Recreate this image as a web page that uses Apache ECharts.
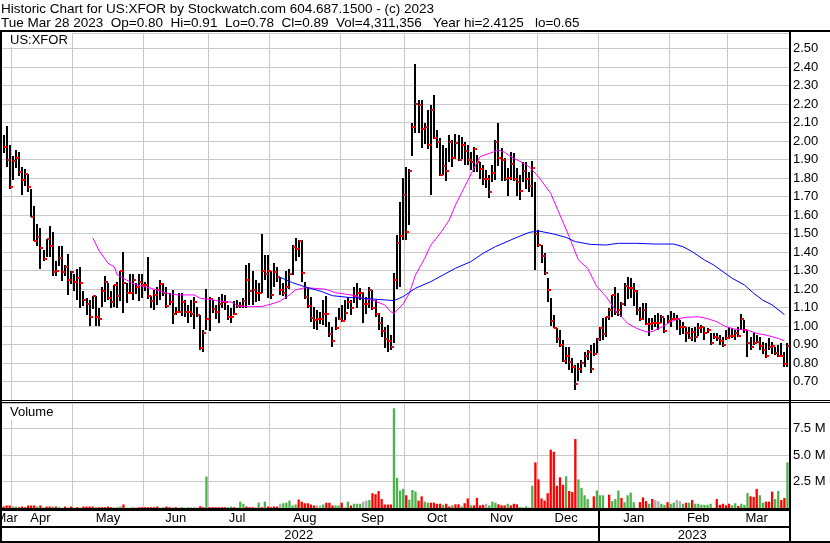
<!DOCTYPE html>
<html><head><meta charset="utf-8">
<script src="https://cdn.jsdelivr.net/npm/echarts@6/dist/echarts.min.js"></script>
<style>html,body{margin:0;padding:0;background:#fff}#c{width:830px;height:543px}</style>
</head><body><div id="c"></div>
<script>
// ---- daily price data (high / low / close), oldest first ----
const hi = [2.03,2.08,1.98,1.92,1.95,1.94,1.86,1.85,1.82,1.74,1.65,1.55,1.53,1.41,1.47,1.54,1.51,1.35,1.43,1.43,
1.33,1.39,1.30,1.28,1.31,1.32,1.19,1.15,1.14,1.16,1.16,1.10,1.21,1.27,1.23,1.19,1.22,1.24,1.30,1.40,
1.23,1.28,1.28,1.23,1.28,1.28,1.24,1.375,1.16,1.195,1.21,1.25,1.23,1.21,1.177,1.195,1.105,1.177,1.177,1.14,
1.114,1.14,1.159,1.105,1.06,0.978,1.20,1.159,1.14,1.114,1.159,1.173,1.168,1.114,1.095,1.137,1.14,1.13,1.15,1.33,
1.342,1.30,1.25,1.23,1.50,1.384,1.384,1.30,1.34,1.32,1.267,1.23,1.30,1.31,1.438,1.474,1.465,1.465,1.24,1.21,
1.159,1.105,1.086,1.077,1.14,1.162,1.023,0.996,1.05,1.095,1.114,1.14,1.159,1.14,1.21,1.23,1.204,1.186,1.159,1.21,
1.195,1.14,1.068,1.05,0.996,1.005,0.951,1.285,1.49,1.67,1.80,1.86,1.85,2.10,2.414,2.22,2.22,2.10,2.17,2.195,
2.25,2.06,2.014,1.978,1.96,2.032,2.005,2.04,2.03,2.023,1.996,1.978,1.942,1.97,1.924,1.888,1.87,1.843,1.816,1.87,
2.005,2.10,1.96,1.906,1.852,1.942,1.933,1.852,1.816,1.888,1.888,1.834,1.892,1.78,1.519,1.438,1.393,1.258,1.15,1.059,
0.987,0.978,0.924,0.888,0.888,0.825,0.789,0.798,0.816,0.861,0.87,0.897,0.906,0.933,0.996,1.041,1.05,1.095,1.168,1.213,
1.177,1.132,1.23,1.267,1.258,1.23,1.195,1.105,1.123,1.123,1.041,1.041,1.059,1.068,1.059,1.041,1.059,1.083,1.068,1.059,
1.032,1.023,0.996,0.996,0.987,0.996,1.014,1.005,0.996,0.987,0.96,0.964,0.96,0.951,0.942,0.978,0.996,0.987,0.978,0.996,
1.063,1.032,0.978,0.942,0.96,0.951,0.942,0.915,0.906,0.933,0.915,0.888,0.897,0.906,0.861,0.91];
const lo = [1.93,1.86,1.74,1.79,1.85,1.81,1.71,1.76,1.72,1.59,1.46,1.43,1.31,1.35,1.37,1.37,1.27,1.27,1.32,1.24,
1.27,1.17,1.23,1.19,1.14,1.10,1.11,1.06,1.00,1.09,1.00,1.00,1.10,1.13,1.14,1.10,1.10,1.10,1.14,1.07,
1.12,1.18,1.14,1.17,1.135,1.15,1.19,1.15,1.095,1.086,1.114,1.14,1.159,1.095,1.114,1.01,1.06,1.068,1.05,1.05,
1.014,1.05,0.987,1.05,0.87,0.86,0.978,0.973,1.068,1.04,1.018,1.10,1.086,1.032,1.014,1.06,1.095,1.095,1.095,1.095,
1.114,1.114,1.13,1.13,1.18,1.249,1.15,1.15,1.21,1.24,1.168,1.159,1.15,1.20,1.276,1.348,1.375,1.24,1.15,1.095,
1.023,0.987,0.978,1.014,1.005,0.996,0.942,0.888,0.978,1.032,1.02,1.032,1.095,1.06,1.123,1.095,1.14,1.018,1.068,1.095,
1.086,1.05,0.978,0.942,0.88,0.861,0.87,0.906,1.20,1.21,1.465,1.465,1.546,1.924,2.041,2.04,1.96,1.987,1.96,1.708,
2.014,1.96,1.807,1.816,1.78,1.888,1.86,1.906,1.888,1.906,1.87,1.87,1.843,1.834,1.834,1.798,1.762,1.744,1.69,1.78,
1.789,1.87,1.78,1.78,1.70,1.789,1.78,1.70,1.68,1.78,1.744,1.726,1.70,1.303,1.429,1.339,1.276,1.126,0.996,0.987,
0.906,0.888,0.807,0.798,0.762,0.744,0.654,0.699,0.744,0.78,0.816,0.744,0.834,0.852,0.92,0.924,0.942,1.032,1.05,1.059,
1.05,1.05,1.105,1.15,1.15,1.105,1.059,1.032,1.032,1.005,0.942,0.978,0.996,0.978,1.014,0.96,1.014,0.996,1.032,0.978,
0.951,0.96,0.915,0.933,0.915,0.915,0.942,0.96,0.924,0.96,0.897,0.933,0.915,0.897,0.888,0.924,0.933,0.933,0.924,0.942,
0.978,0.96,0.834,0.87,0.897,0.906,0.87,0.852,0.825,0.87,0.852,0.843,0.834,0.834,0.78,0.78];
const cl = [1.97,1.90,1.75,1.89,1.91,1.83,1.79,1.82,1.75,1.59,1.46,1.48,1.42,1.36,1.47,1.43,1.29,1.30,1.37,1.29,
1.32,1.25,1.29,1.24,1.26,1.23,1.14,1.12,1.05,1.16,1.05,1.04,1.19,1.24,1.15,1.13,1.22,1.16,1.30,1.23,
1.18,1.18,1.25,1.21,1.24,1.22,1.22,1.16,1.135,1.168,1.195,1.227,1.18,1.108,1.13,1.065,1.076,1.076,1.13,1.076,
1.076,1.063,1.13,1.06,0.88,0.964,1.04,1.148,1.09,1.077,1.117,1.13,1.13,1.05,1.05,1.065,1.108,1.108,1.137,1.25,
1.19,1.195,1.18,1.18,1.297,1.279,1.297,1.17,1.29,1.267,1.195,1.177,1.21,1.28,1.429,1.416,1.46,1.288,1.159,1.108,
1.045,1.032,1.04,1.04,1.065,1.065,0.957,0.92,0.991,1.038,1.029,1.068,1.13,1.095,1.162,1.18,1.18,1.119,1.119,1.195,
1.095,1.063,1.014,0.975,0.928,0.92,0.888,1.249,1.45,1.486,1.708,1.51,1.84,2.077,2.20,2.195,2.065,2.077,1.978,2.168,
2.018,1.996,1.816,1.867,1.838,1.996,1.91,1.987,1.897,1.978,1.946,1.897,1.888,1.957,1.888,1.849,1.795,1.795,1.722,1.829,
1.993,1.91,1.90,1.795,1.80,1.877,1.795,1.78,1.73,1.84,1.795,1.759,1.852,1.497,1.438,1.378,1.288,1.195,1.029,0.991,
0.93,0.90,0.813,0.838,0.807,0.78,0.686,0.768,0.798,0.84,0.861,0.768,0.847,0.93,0.991,0.955,1.05,1.086,1.168,1.074,
1.088,1.119,1.218,1.207,1.207,1.19,1.086,1.038,1.086,1.011,1.011,1.018,1.018,1.018,1.05,0.975,1.029,1.04,1.04,1.04,
0.996,0.996,0.964,0.937,0.968,0.939,0.991,0.996,0.964,0.98,0.91,0.942,0.937,0.92,0.897,0.937,0.946,0.946,0.96,0.946,
1.04,0.978,0.91,0.885,0.91,0.915,0.892,0.87,0.838,0.885,0.892,0.856,0.838,0.838,0.795,0.89];
// ---- daily volume (millions) and direction (u up / d down / n unchanged) ----
const vol = [0.14,0.24,0.24,0.14,0.14,0.08,0.14,0.08,0.24,0.24,0.24,0.14,0.24,0.05,0.14,0.14,0.14,0.14,0.08,0.03,
0.14,0.03,0.14,0.03,0.08,0.02,0.14,0.14,0.14,0.14,0.08,0.08,0.08,0.08,0.14,0.08,0.03,0.08,0.14,0.33,
0.03,0.03,0.08,0.03,0.08,0.08,0.08,0.08,0.08,0.08,0.14,0.03,0.08,0.14,0.08,0.03,0.08,0.03,0.08,0.03,
0.08,0.08,0.08,0.03,0.17,0.08,2.97,0.08,0.08,0.08,0.08,0.08,0.08,0.08,0.14,0.08,0.03,0.6,0.4,0.14,
0.08,0.08,0.03,0.5,0.08,0.6,0.14,0.08,0.14,0.14,0.4,0.45,0.5,0.7,0.24,0.33,0.8,0.6,0.45,0.45,
0.33,0.24,0.24,0.24,0.33,0.5,0.5,0.24,0.24,0.24,0.5,0.05,0.6,0.24,0.4,0.4,0.4,0.6,0.7,0.75,
1.4,1.3,1.6,0.85,0.33,0.33,0.33,9.4,2.85,1.65,1.8,1.2,0.78,1.7,1.55,0.69,1.1,0.6,0.5,0.5,
0.5,0.4,0.4,0.3,0.4,0.15,0.25,0.35,0.35,0.15,0.45,0.9,0.25,0.25,0.95,0.25,0.3,0.4,0.25,0.6,
0.5,0.35,0.25,0.25,0.4,0.25,0.4,0.35,0.1,0.05,0.15,0.05,2.1,4.3,2.7,0.9,0.7,1.4,5.5,5.3,
2.1,2.9,2.2,3.0,1.6,1.5,6.5,2.7,1.9,1.2,0.85,0.03,1.1,1.65,1.2,1.2,0.03,1.25,0.65,0.85,
1.65,0.95,0.55,1.2,1.45,0.55,0.03,0.55,1.0,0.65,0.4,0.85,0.75,0.65,0.4,0.3,0.55,0.4,0.5,0.75,
0.65,0.4,0.5,0.5,0.75,0.4,0.4,0.3,0.3,0.3,0.4,0.03,0.85,0.3,0.4,0.25,0.4,0.25,0.45,0.2,
0.4,0.3,1.4,1.1,1.05,1.8,1.2,0.5,0.6,0.6,1.55,0.85,1.6,0.75,0.95,4.31];
const volDir = ('ddduuddddd dududduduu dddudddddd udddddduud uuuddddddd duudddduuu unnddduddd ddduuduuud dddududddd nuuuuudddd ' +
  'ddnnuddduu duuduuunnu ddddddduuu uduuudduud dddudduddu dduddddnuu uddduddduu uuuddddddd ddduddduuu unduuunduu ' +
  'uduuuunddd udnnuuduun nududuuuuu unddddduud uuuddduudd duuddu').replace(/ /g, '').split('');
// ---- moving averages: [day index, value] ----
const maShort = [[29,1.477],[31,1.41],[34,1.339],[36,1.32],[37,1.276],[40,1.249],[42,1.23],[44,1.22],[48,1.204],[51,1.189],
[54,1.173],[57,1.168],[62,1.168],[64,1.15],[67,1.144],[70,1.135],[74,1.13],[76,1.11],[78,1.105],[81,1.105],[84,1.105],
[88,1.123],[90,1.135],[93,1.168],[95,1.195],[98,1.207],[101,1.204],[105,1.198],[108,1.18],[113,1.168],[116,1.153],
[120,1.14],[124,1.114],[126,1.077],[127,1.068],[130,1.12],[132,1.177],[134,1.276],[137,1.366],[139,1.438],[142,1.50],
[145,1.573],[147,1.654],[150,1.753],[153,1.852],[155,1.915],[158,1.933],[161,1.951],[163,1.939],[165,1.915],[168,1.89],
[171,1.861],[174,1.807],[178,1.717],[181,1.60],[184,1.483],[187,1.357],[190,1.312],[193,1.213],[196,1.159],[199,1.086],
[203,1.014],[206,0.987],[209,0.968],[211,0.97],[214,0.993],[217,1.023],[220,1.041],[222,1.047],[226,1.05],[229,1.04],
[232,1.023],[235,0.996],[238,0.982],[242,0.978],[245,0.96],[248,0.951],[252,0.933],[254,0.92]];
const maLong = [[90,1.263],[94,1.234],[99,1.207],[103,1.189],[107,1.164],[112,1.155],[116,1.151],[120,1.146],[125,1.14],
[127,1.137],[130,1.159],[134,1.204],[139,1.24],[143,1.276],[147,1.312],[152,1.348],[156,1.393],[160,1.429],[165,1.465],
[168,1.486],[171,1.506],[174,1.514],[179,1.497],[183,1.479],[186,1.456],[191,1.441],[196,1.438],[200,1.447],[206,1.447],
[212,1.443],[218,1.443],[221,1.429],[224,1.402],[228,1.357],[231,1.33],[234,1.294],[237,1.258],[241,1.222],[244,1.177],
[247,1.14],[250,1.114],[254,1.062]];
// ---- calendar ----
const monthNames = ['Mar','Apr','May','Jun','Jul','Aug','Sep','Oct','Nov','Dec','Jan','Feb','Mar'];
const monthStarts = [0,3,23,46,67,87,110,131,152,174,194,217,236];
const yearNames = ['2022','2023'];
const yearStarts = [0,194];

const N = hi.length;
const cats = hi.map((_, i) => String(i));
const FONT = 'Liberation Sans, Arial, sans-serif';
const monthStartSet = new Set(monthStarts.slice(1));
const monthLabel = {};
monthStarts.forEach((s, k) => {
  const e = k + 1 < monthStarts.length ? monthStarts[k + 1] : N;
  monthLabel[Math.max(0, Math.floor((s + e) / 2 - 0.5))] = monthNames[k];
});
const yearLabel = {};
yearStarts.forEach((s, k) => {
  const e = k + 1 < yearStarts.length ? yearStarts[k + 1] : N;
  yearLabel[Math.floor((s + e) / 2 - 0.5)] = yearNames[k];
});
const dirColor = {u: '#4cb34c', d: '#ff0000', n: '#aaaaaa'};
const ohlc = hi.map((h, i) => [i, h, lo[i], cl[i]]);

const chart = echarts.init(document.getElementById('c'), null, {renderer: 'canvas'});
const G = {left: 2, width: 787};
const tStyle = (fs, lh) => ({fontSize: fs, fontWeight: 'normal', color: '#000', fontFamily: FONT, lineHeight: lh});
chart.setOption({
  animation: false,
  backgroundColor: '#fff',
  textStyle: {fontFamily: FONT},
  title: [
    {text: 'Historic Chart for US:XFOR by Stockwatch.com 604.687.1500 - (c) 2023', left: 1, top: 2, padding: 0, textStyle: tStyle(13.5, 14)},
    {text: 'Tue Mar 28 2023  Op=0.80  Hi=0.91  Lo=0.78  Cl=0.89  Vol=4,311,356   Year hi=2.4125   lo=0.65', left: 1, top: 16, padding: 0, textStyle: tStyle(13.5, 14)},
    {text: 'US:XFOR', left: 2, top: 33, padding: [0, 4, 0, 8], backgroundColor: '#fff', textStyle: tStyle(13, 14)},
    {text: 'Volume', left: 2, top: 404, padding: [1, 4, 1, 8], backgroundColor: '#fff', textStyle: tStyle(13, 14)}
  ],
  grid: [
    {left: G.left, width: G.width, top: 33, height: 367, containLabel: false, outerBoundsMode: 'none'},
    {left: G.left, width: G.width, top: 403, height: 105, containLabel: false, outerBoundsMode: 'none'}
  ],
  xAxis: [
    {type: 'category', gridIndex: 0, data: cats, boundaryGap: true,
     axisLine: {show: false}, axisTick: {show: false}, axisLabel: {show: false},
     splitLine: {show: true, interval: (i) => monthStartSet.has(i), lineStyle: {color: '#c8c8c8', width: 1}}},
    {type: 'category', gridIndex: 1, data: cats, boundaryGap: true, position: 'bottom',
     axisLine: {show: false}, axisTick: {show: false},
     axisLabel: {show: true, interval: (i) => monthLabel[i] !== undefined, formatter: (v, i) => monthLabel[i] || '',
       fontSize: 13, color: '#000', margin: 4, fontFamily: FONT},
     splitLine: {show: true, interval: (i) => monthStartSet.has(i), lineStyle: {color: '#c8c8c8', width: 1}}},
    {type: 'category', gridIndex: 1, data: cats, boundaryGap: true, position: 'bottom', offset: 17,
     axisLine: {show: false}, axisTick: {show: false},
     axisLabel: {show: true, interval: (i) => yearLabel[i] !== undefined, formatter: (v, i) => yearLabel[i] || '',
       fontSize: 13, color: '#000', margin: 4, fontFamily: FONT},
     splitLine: {show: false}}
  ],
  yAxis: [
    {type: 'value', gridIndex: 0, position: 'right', min: 0.6, max: 2.584, interval: 0.1,
     axisLine: {show: false}, axisTick: {show: false},
     axisLabel: {fontSize: 13, color: '#000', margin: 4, fontFamily: FONT,
       formatter: (v) => (v > 0.65 && v < 2.55) ? v.toFixed(2) : ''},
     splitLine: {show: true, lineStyle: {color: '#c8c8c8', width: 1}}},
    {type: 'value', gridIndex: 1, position: 'right', min: 0, max: 9.9, interval: 2.5,
     axisLine: {show: false}, axisTick: {show: false},
     axisLabel: {fontSize: 13, color: '#000', margin: 4, fontFamily: FONT,
       formatter: (v) => (v > 1 && v < 9) ? v.toFixed(1) + ' M' : ''},
     splitLine: {show: true, lineStyle: {color: '#c8c8c8', width: 1}}}
  ],
  series: [
    {type: 'custom', name: 'range', xAxisIndex: 0, yAxisIndex: 0, z: 2, data: ohlc,
     encode: {x: 0, y: [1, 2, 3]},
     renderItem: function (params, api) {
       const pH = api.coord([api.value(0), api.value(1)]);
       const pL = api.coord([api.value(0), api.value(2)]);
       const cx = Math.round(pH[0]);
       return {type: 'rect', shape: {x: cx - 1, y: Math.round(pH[1]), width: 2, height: Math.max(2, Math.round(pL[1] - pH[1]))}, style: {fill: '#000'}};
     }},
    {type: 'custom', name: 'close', xAxisIndex: 0, yAxisIndex: 0, z: 3, data: ohlc,
     encode: {x: 0, y: [1, 2, 3]},
     renderItem: function (params, api) {
       const pC = api.coord([api.value(0), api.value(3)]);
       const cx = Math.round(pC[0]);
       return {type: 'rect', shape: {x: cx, y: Math.round(pC[1]) - 1, width: 3, height: 2}, style: {fill: '#ff0000'}};
     }},
    {type: 'line', xAxisIndex: 0, yAxisIndex: 0, data: maShort, showSymbol: false, connectNulls: true, z: 4,
     lineStyle: {color: '#ff00ff', width: 1}},
    {type: 'line', xAxisIndex: 0, yAxisIndex: 0, data: maLong, showSymbol: false, connectNulls: true, z: 4,
     lineStyle: {color: '#0000ff', width: 1}},
    {type: 'bar', xAxisIndex: 1, yAxisIndex: 1, barWidth: 2.3,
     data: vol.map((v, i) => ({value: v, itemStyle: {color: dirColor[volDir[i]] || '#4cb34c'}}))}
  ],
  graphic: [
    {type: 'rect', shape: {x: 0, y: 30, width: 830, height: 2}, style: {fill: '#000'}, z: 100},
    {type: 'rect', shape: {x: 0, y: 30, width: 2, height: 513}, style: {fill: '#000'}, z: 100},
    {type: 'rect', shape: {x: 789, y: 30, width: 2, height: 513}, style: {fill: '#000'}, z: 100},
    {type: 'rect', shape: {x: 0, y: 400, width: 830, height: 1}, style: {fill: '#000'}, z: 100},
    {type: 'rect', shape: {x: 0, y: 402, width: 830, height: 1}, style: {fill: '#000'}, z: 100},
    {type: 'rect', shape: {x: 0, y: 508, width: 791, height: 3}, style: {fill: '#000'}, z: 100},
    {type: 'rect', shape: {x: 0, y: 526, width: 791, height: 2}, style: {fill: '#000'}, z: 100},
    {type: 'rect', shape: {x: 0, y: 541, width: 830, height: 2}, style: {fill: '#000'}, z: 100},
    {type: 'rect', shape: {x: 598, y: 510, width: 2, height: 32}, style: {fill: '#000'}, z: 100}
  ]
});
</script></body></html>
